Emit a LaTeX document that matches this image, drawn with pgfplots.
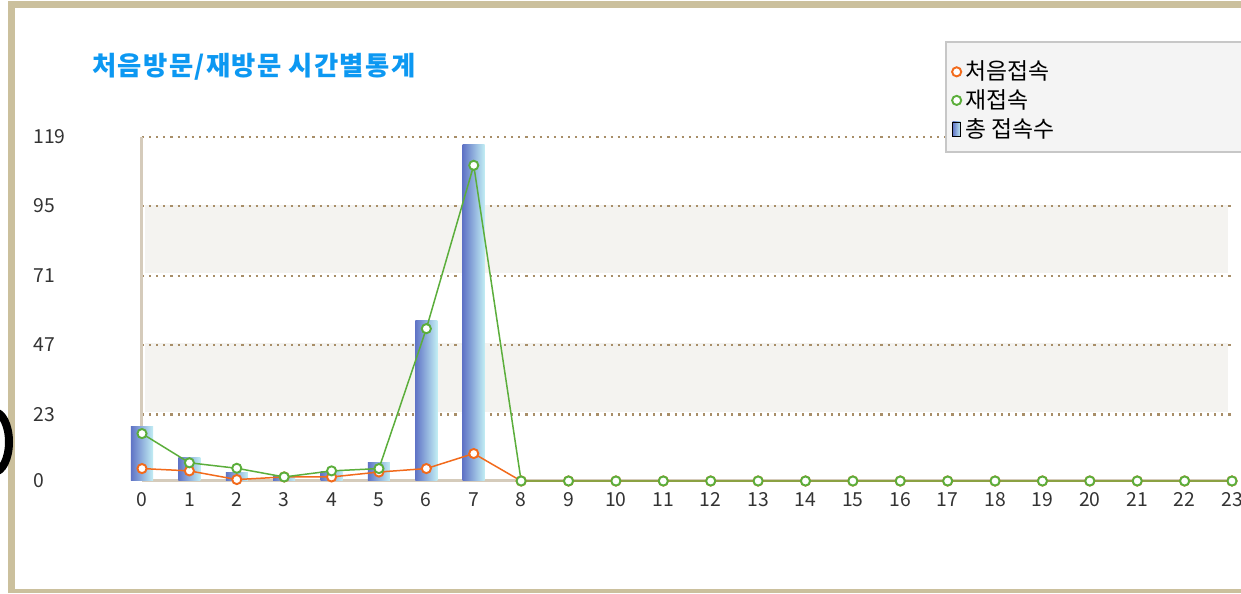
\documentclass[border=0pt]{standalone}
\usepackage{pgfplots}
\pgfplotsset{compat=1.18}
\usepackage{fontspec}
\setmainfont{Noto Sans CJK KR}

\definecolor{framec}{HTML}{CBC09D}
\definecolor{titleblue}{HTML}{0C98F2}
\definecolor{bandc}{HTML}{F4F3F0}
\definecolor{gridc}{HTML}{A88E68}
\definecolor{axisc}{HTML}{D5CBBB}
\definecolor{orangec}{HTML}{F26A1B}
\definecolor{greenc}{HTML}{5BAE3B}
\definecolor{barL}{HTML}{6074C6}
\definecolor{barM}{HTML}{86A6DA}
\definecolor{barR}{HTML}{C2EEF4}
\definecolor{tickc}{HTML}{333333}

\pgfplotsset{
  hourbar/.style={ybar, bar width=0.44cm, draw=none, left color=barL, middle color=barM, right color=barR, forget plot},
}

\begin{document}
\begin{tikzpicture}
\begin{scope}[x=0.02cm,y=0.02cm]
  \fill[white] (0,0) rectangle (1241,593);
  % outer frame
  \draw[framec, line width=0.14cm] (11.6,0) -- (11.6,588) -- (1241,588);
  \draw[framec, line width=0.08cm] (8,2) -- (1241,2);
  \begin{scope}
    \clip (0,0) rectangle (20,593);
    \draw[black, line width=0.16cm] (-6,151) ellipse (15 and 30);
  \end{scope}
  % title
  \node[anchor=west, inner sep=0pt, text=titleblue, font=\bfseries\fontsize{15}{17}\selectfont\addfontfeature{LetterSpace=5}] at (92,526) {처음방문/재방문 시간별통계};
  % grey bands behind the plot
  \fill[bandc] (145,320) rectangle (1228,388);
  \fill[bandc] (145,181) rectangle (1228,250);
\end{scope}

\begin{axis}[
  at={(2.84cm,2.24cm)}, anchor=south west,
  scale only axis, width=21.8cm, height=6.88cm,
  xmin=0, xmax=23, ymin=0, ymax=119,
  clip=false,
  axis x line=bottom, axis y line=left,
  axis line style={-, draw=axisc, line width=0.06cm},
  xtick={0,...,23}, ytick={0,23,47,71,95,119},
  major tick length=0pt, tick style={draw=none},
  ymajorgrids,
  major grid style={draw=gridc, line width=0.042cm, dash pattern=on 0.042cm off 0.1cm},
  /pgf/number format/assume math mode=true,
  ticklabel style={font=\fontsize{11}{12}\selectfont, text=tickc, inner sep=0pt},
  yticklabel style={anchor=base west, xshift=-2.18cm, yshift=-0.13cm},
  xticklabel style={anchor=base, yshift=-0.52cm},
  legend cell align=left,
  legend style={at={(axis description cs:0.742,1.232)}, anchor=north west,
    draw=none, fill=none, font=\fontsize{13}{15}\selectfont,
    inner sep=0pt, row sep=0pt,
    /tikz/every even column/.append style={column sep=0.12cm}},
]
% total visits (bars), one plot per hour so each bar gets its own shading
\addplot[hourbar] coordinates {(0,19)};
\addplot[hourbar] coordinates {(1,8.1)};
\addplot[hourbar] coordinates {(2,3.1)};
\addplot[hourbar] coordinates {(3,1.6)};
\addplot[hourbar] coordinates {(4,3.3)};
\addplot[hourbar] coordinates {(5,6.4)};
\addplot[hourbar] coordinates {(6,55.6)};
\addplot[hourbar] coordinates {(7,116.5)};

% first visit
\addplot[color=orangec, line width=0.85pt, mark=*, mark size=2.6pt,
  mark options={fill=white, draw=orangec, line width=1.1pt}, forget plot]
  coordinates {(0,4.3) (1,3.5) (2,0.5) (3,1.4) (4,1.4) (5,3.1) (6,4.3) (7,9.5)
    (8,0) (9,0) (10,0) (11,0) (12,0) (13,0) (14,0) (15,0) (16,0) (17,0) (18,0) (19,0) (20,0) (21,0) (22,0) (23,0)};

% revisit
\addplot[color=greenc, line width=0.85pt, mark=*, mark size=2.6pt,
  mark options={fill=white, draw=greenc, line width=1.1pt}, forget plot]
  coordinates {(0,16.4) (1,6.3) (2,4.4) (3,1.4) (4,3.5) (5,4.3) (6,52.7) (7,109.2)
    (8,0) (9,0) (10,0) (11,0) (12,0) (13,0) (14,0) (15,0) (16,0) (17,0) (18,0) (19,0) (20,0) (21,0) (22,0) (23,0)};

% legend box, drawn over the grid and under the legend entries
\draw[draw=black!22, fill=black!4.5, line width=0.03cm] (axis cs:16.965,151.85) rectangle (axis cs:23.3,113.8);

\addlegendimage{legend image code/.code={\draw[draw=orangec, fill=white, line width=1.1pt] (0.1cm,0cm) circle (2.6pt);}}
\addlegendentry{처음접속}
\addlegendimage{legend image code/.code={\draw[draw=greenc, fill=white, line width=1.1pt] (0.1cm,0cm) circle (2.6pt);}}
\addlegendentry{재접속}
\addlegendimage{legend image code/.code={\fill[left color=barL, right color=barR] (0.02cm,-0.14cm) rectangle (0.18cm,0.14cm);}}
\addlegendentry{총 접속수}
\end{axis}
\pgfresetboundingbox
\path[use as bounding box] (0,0) rectangle (24.82cm,11.86cm);
\end{tikzpicture}
\end{document}
